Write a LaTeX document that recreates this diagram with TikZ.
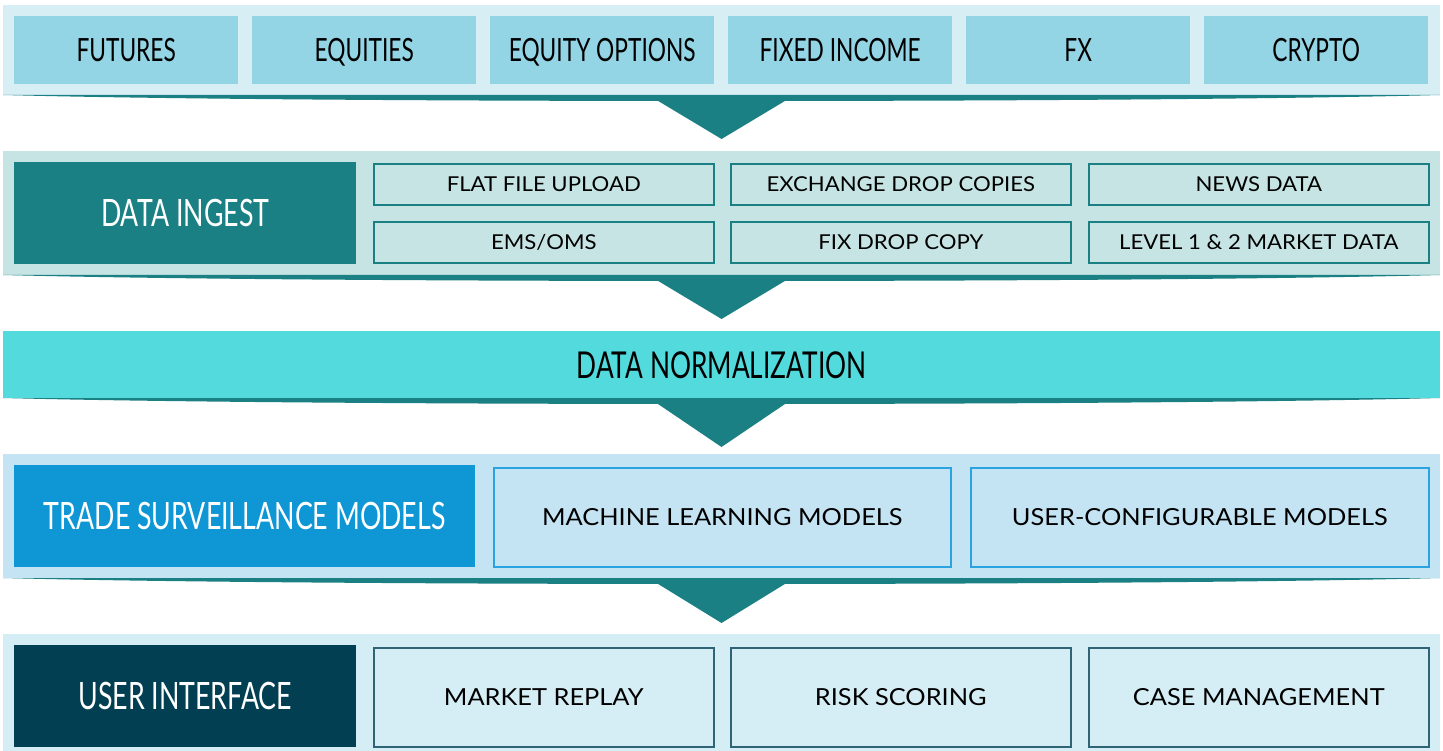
\documentclass[tikz,border=0pt]{standalone}
\usepackage{fontspec}
\setmainfont{Lato}
\newfontfamily\condfont[FakeStretch=0.71]{Lato}
\newfontfamily\wideFont[FakeStretch=1.08]{Lato}
\usetikzlibrary{calc}
\definecolor{bgA}{HTML}{D7EEF5}
\definecolor{boxA}{HTML}{93D5E5}
\definecolor{tealC}{HTML}{1B8083}
\definecolor{bgB}{HTML}{C6E4E4}
\definecolor{normC}{HTML}{52DADD}
\definecolor{bgD}{HTML}{C4E4F4}
\definecolor{blueC}{HTML}{0E96D5}
\definecolor{blueL}{HTML}{2BA3DE}
\definecolor{bgE}{HTML}{D5EDF5}
\definecolor{navyC}{HTML}{023F52}
\definecolor{navyL}{HTML}{2F6476}
\begin{document}
\begin{tikzpicture}[x=1pt,y=-1pt,
  band/.style={anchor=north west,inner sep=0pt,outer sep=0pt,minimum width=1437pt},
  topbox/.style={anchor=north west,inner sep=0pt,fill=boxA,minimum width=224pt,minimum height=68pt,
     text height=23pt,text depth=0pt,font=\condfont\fontsize{32}{32}\selectfont,text=black},
  bigbox/.style={anchor=north west,inner sep=0pt,minimum width=342pt,minimum height=102pt,
     text height=27pt,text depth=0pt,font=\condfont\fontsize{37.7}{38}\selectfont,text=white},
  ingbox/.style={anchor=north west,inner sep=0pt,draw=tealC,line width=1.6pt,fill=bgB,
     minimum width=340pt,minimum height=41pt,text height=14.7pt,text depth=0pt,
     font=\wideFont\fontsize{20.5}{21}\selectfont},
  modbox/.style={anchor=north west,inner sep=0pt,draw=blueL,line width=1.6pt,fill=bgD,
     minimum width=457pt,minimum height=99pt,text height=16.8pt,text depth=0pt,
     font=\wideFont\fontsize{23.5}{24}\selectfont},
  uibox/.style={anchor=north west,inner sep=0pt,draw=navyL,line width=1.6pt,fill=bgE,
     minimum width=340pt,minimum height=99pt,text height=16.8pt,text depth=0pt,
     font=\wideFont\fontsize{23.5}{24}\selectfont},
  shade/.style={fill=tealC}]
\useasboundingbox (0,0) rectangle (1443,751);
% ---------- band 1 : asset classes
\node[band,fill=bgA,minimum height=90pt] (b1) at (3,5) {};
\node[topbox] (fut) at (14,16) {FUTURES};
\node[topbox] (equ) at (252,16) {EQUITIES};
\node[topbox] (eqo) at (490,16) {EQUITY OPTIONS};
\node[topbox] (fix) at (728,16) {FIXED INCOME};
\node[topbox] (fx)  at (966,16) {FX};
\node[topbox] (cry) at (1204,16) {CRYPTO};
% ---------- band 2 : data ingest
\node[band,fill=bgB,minimum height=124pt] (b2) at (3,151) {};
\node[bigbox,fill=tealC] (ing) at (14,162) {DATA INGEST};
\node[ingbox] (ffu) at (373,163) {FLAT FILE UPLOAD};
\node[ingbox] (edc) at (730,163) {EXCHANGE DROP COPIES};
\node[ingbox] (nws) at (1088,163) {NEWS DATA};
\node[ingbox] (ems) at (373,221) {EMS/OMS};
\node[ingbox] (fdc) at (730,221) {FIX DROP COPY};
\node[ingbox] (lvl) at (1088,221) {LEVEL 1 \& 2 MARKET DATA};
% ---------- band 3 : normalization
\node[band,fill=normC,minimum height=67pt,text height=27pt,text depth=0pt,
  font=\condfont\fontsize{37}{38}\selectfont] (b3) at (3,331) {DATA NORMALIZATION};
% ---------- band 4 : models
\node[band,fill=bgD,minimum height=124pt] (b4) at (3,454) {};
\node[bigbox,fill=blueC,minimum width=461pt] (tsm) at (14,465) {TRADE SURVEILLANCE MODELS};
\node[modbox] (mlm) at (493,467) {MACHINE LEARNING MODELS};
\node[modbox,minimum width=458pt] (ucm) at (970,467) {USER-CONFIGURABLE MODELS};
% ---------- band 5 : user interface
\node[band,fill=bgE,minimum height=117pt] (b5) at (3,634) {};
\node[bigbox,fill=navyC] (ui) at (14,645) {USER INTERFACE};
\node[uibox] (mrp) at (373,647) {MARKET REPLAY};
\node[uibox] (rsk) at (730,647) {RISK SCORING};
\node[uibox] (cas) at (1088,647) {CASE MANAGEMENT};
% ---------- shadows and chevrons between bands
\foreach \b/\d in {b1/44,b2/44,b3/49,b4/45}{
  \fill[shade] (\b.south west) .. controls ([xshift=300pt,yshift=-8pt]\b.south west)
     and ([xshift=-300pt,yshift=-8pt]\b.south east) .. (\b.south east) -- cycle;
  \fill[shade] ([xshift=-65pt,yshift=-5pt]\b.south) -- ([xshift=65pt,yshift=-5pt]\b.south)
     -- ([yshift=-\d pt]\b.south) -- cycle;
}
\end{tikzpicture}
\end{document}
